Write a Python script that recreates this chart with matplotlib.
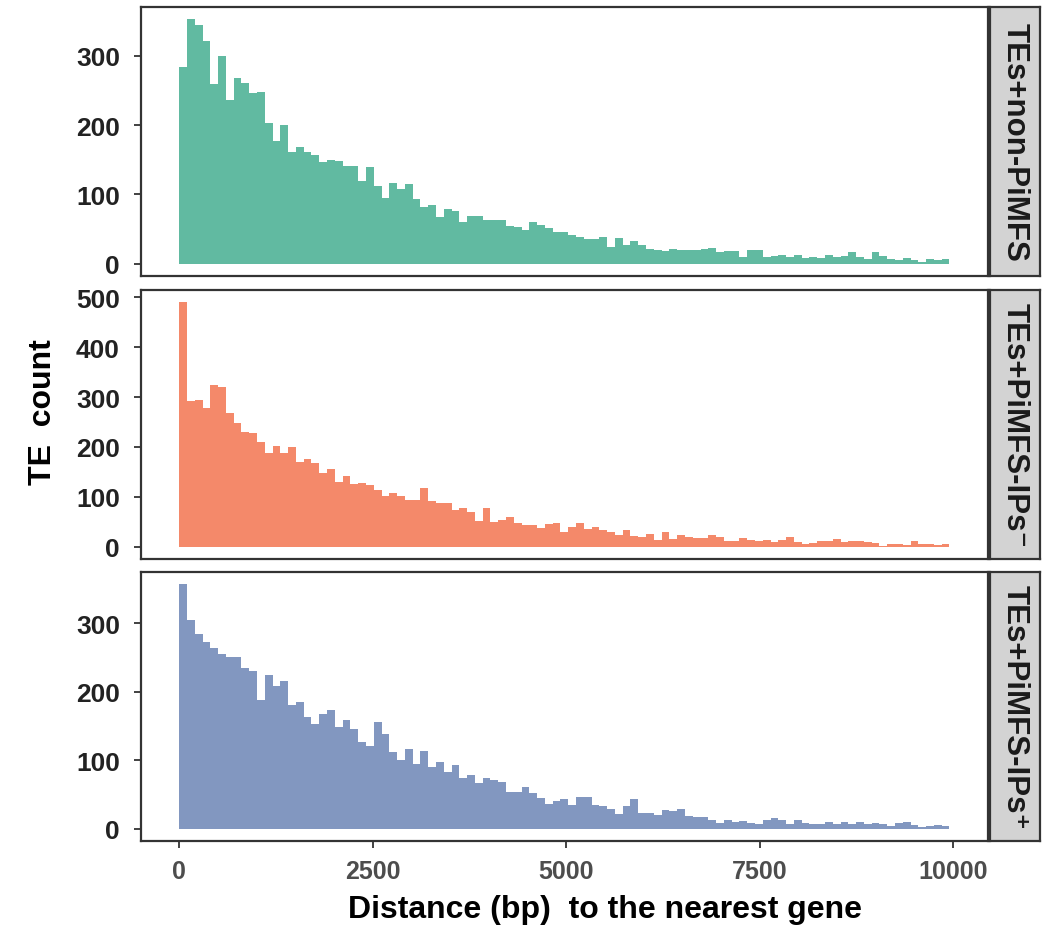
import numpy as np
import matplotlib
matplotlib.use("Agg")
import matplotlib.pyplot as plt

W, H = 1057, 929
plt.rcParams['font.family'] = ['Liberation Sans', 'DejaVu Sans']
plt.rcParams['font.weight'] = 'bold'

# 99 bins, distance to nearest gene (bp)
edges = np.linspace(0, 9950, 100)

counts_non = [284, 353, 344, 321, 259, 300, 237, 268, 261, 246,
              248, 203, 177, 200, 162, 168, 161, 157, 147, 150,
              148, 141, 141, 119, 139, 112, 95, 116, 108, 115,
              93, 82, 85, 67, 79, 76, 60, 69, 69, 63,
              63, 63, 54, 53, 49, 60, 56, 51, 46, 46,
              41, 38, 36, 36, 38, 24, 37, 27, 33, 27,
              21, 20, 18, 21, 20, 20, 20, 21, 23, 17,
              18, 18, 10, 20, 20, 10, 11, 12, 10, 12,
              8, 10, 8, 12, 10, 11, 17, 10, 7, 17,
              11, 7, 5, 8, 5, 2, 7, 5, 7]

counts_neg = [490, 292, 294, 278, 324, 320, 268, 248, 230, 228,
              210, 188, 202, 188, 200, 170, 176, 168, 148, 156,
              130, 142, 126, 128, 124, 114, 102, 108, 102, 94,
              94, 118, 92, 88, 88, 74, 78, 70, 52, 78,
              50, 54, 60, 48, 44, 44, 38, 46, 48, 30,
              40, 48, 36, 40, 34, 30, 24, 34, 22, 20,
              26, 14, 30, 16, 24, 20, 18, 18, 24, 20,
              12, 12, 18, 14, 12, 14, 10, 14, 20, 10,
              6, 8, 12, 12, 16, 10, 12, 12, 10, 8,
              2, 6, 6, 4, 12, 6, 6, 4, 6]

counts_pos = [357, 305, 284, 272, 264, 255, 251, 251, 234, 230,
              188, 224, 208, 215, 180, 185, 163, 153, 167, 173,
              148, 159, 145, 126, 121, 156, 138, 112, 100, 116,
              94, 113, 90, 97, 83, 93, 74, 78, 67, 74,
              71, 68, 53, 53, 61, 52, 45, 36, 40, 43,
              34, 46, 46, 34, 33, 29, 21, 33, 43, 23,
              23, 20, 27, 26, 29, 18, 17, 17, 13, 9,
              13, 10, 12, 9, 7, 13, 16, 13, 7, 13,
              9, 7, 7, 10, 7, 10, 7, 10, 7, 9,
              7, 4, 9, 10, 6, 3, 4, 6, 4]

panel_counts = [counts_non, counts_neg, counts_pos]
panel_labels = ["TEs+non-PiMFS", "TEs+PiMFS-IPs\u207b", "TEs+PiMFS-IPs\u207a"]
colors = ["#61BAA1", "#F4896A", "#8297C0"]
yticks = [[0, 100, 200, 300], [0, 100, 200, 300, 400, 500], [0, 100, 200, 300]]
xticks = [0, 2500, 5000, 7500, 10000]

# panel boxes in pixels (left, right, top, bottom)
px_left, px_right = 140.7, 988
strip_left, strip_right = 989.5, 1040
tops = [8, 291, 573]
bottoms = [277, 560, 842]
edge_col = "#333333"

fig = plt.figure(figsize=(W / 100, H / 100), dpi=100)

def rect(l, r, t, b):
    return [l / W, 1 - b / H, (r - l) / W, (b - t) / H]

xmin, xmax = edges[0], edges[-1]
xpad = 0.05 * (xmax - xmin)
for i, (cnt, lab, col, yt) in enumerate(zip(panel_counts, panel_labels, colors, yticks)):
    ax = fig.add_axes(rect(px_left, px_right, tops[i], bottoms[i]))
    ax.bar(edges[:-1], cnt, width=np.diff(edges), align='edge', color=col, linewidth=0)
    ymax = max(cnt)
    ax.set_xlim(xmin - xpad, xmax + xpad)
    ax.set_ylim(-0.05 * ymax, 1.05 * ymax)
    ax.set_yticks(yt)
    ax.set_yticklabels([str(v) for v in yt], fontsize=19, fontweight='bold', color="#222222")
    ax.tick_params(axis='y', length=5, width=1.3, color=edge_col, pad=10)
    for s in ax.spines.values():
        s.set_color(edge_col)
        s.set_linewidth(1.6)
    if i == 2:
        ax.set_xticks(xticks)
        ax.set_xticklabels([str(v) for v in xticks], fontsize=18, fontweight='bold', color="#4D4D4D")
        ax.tick_params(axis='x', length=5, width=1.3, color=edge_col, pad=8)
    else:
        ax.set_xticks([])

    sax = fig.add_axes(rect(strip_left, strip_right, tops[i], bottoms[i]))
    sax.set_facecolor("#D3D3D3")
    sax.set_xticks([]); sax.set_yticks([])
    for s in sax.spines.values():
        s.set_color(edge_col)
        s.set_linewidth(1.6)
    sax.text(0.5, 0.5, lab, rotation=-90, ha='center', va='center', fontsize=22.5,
             fontweight='bold', color="#1A1A1A", transform=sax.transAxes)

fig.text(43 / W, 1 - 412 / H, "TE  count", rotation=90, ha='center', va='center',
         fontsize=23, fontweight='bold', color="black")
fig.text(605 / W, 1 - 910 / H, "Distance (bp)  to the nearest gene",
         ha='center', va='center', fontsize=23, fontweight='bold', color="black")

fig.savefig("out.png", dpi=100)
